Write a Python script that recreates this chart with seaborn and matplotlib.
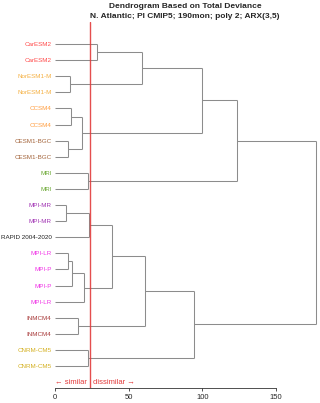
import numpy as np
import seaborn as sns
import matplotlib
matplotlib.use("Agg")
import matplotlib.pyplot as plt
import matplotlib.transforms as mtransforms

# leaves, top to bottom
leaf_labels = ["CarESM2", "CarESM2", "NorESM1-M", "NorESM1-M", "CCSM4", "CCSM4",
               "CESM1-BGC", "CESM1-BGC", "MRI", "MRI", "MPI-MR", "MPI-MR",
               "RAPID 2004-2020", "MPI-LR", "MPI-P", "MPI-P", "MPI-LR",
               "INMCM4", "INMCM4", "CNRM-CM5", "CNRM-CM5"]
leaf_colors = ["#ff4b4b", "#ff4b4b", "#f5b042", "#f5b042", "#ff9d3f", "#ff9d3f",
               "#a3643b", "#a3643b", "#6aa832", "#6aa832", "#a031b3", "#a031b3",
               "#222222", "#f032e6", "#f032e6", "#f032e6", "#f032e6",
               "#a83a3a", "#a83a3a", "#d4b020", "#d4b020"]

# merges, linkage style: new node ids start at len(leaf_labels)
merge_left = [0, 2, 21, 4, 6, 24, 23, 8, 27, 10, 30, 13, 32, 33, 31, 17, 35, 19, 37, 29]
merge_right = [1, 3, 22, 5, 7, 25, 26, 9, 28, 11, 12, 14, 15, 16, 34, 18, 36, 20, 38, 39]
merge_height = [28.3, 10.4, 59.2, 11.1, 8.6, 18.5, 100.1, 22.4, 123.2, 7.7,
                23.1, 8.6, 11.7, 19.9, 38.9, 15.8, 61.0, 22.6, 94.2, 177.0]

cut_height = 23.7
xticks = [0, 50, 100, 150]

sns.set_style("white")
plt.rcParams["font.family"] = ["Liberation Sans", "DejaVu Sans"]

fig = plt.figure(figsize=(3.2, 4.03), dpi=100)
# axes from px 53 to 318, value 0 at px 55
ax = fig.add_axes([53 / 320, 0.0372, 265 / 320, 0.908])

n = len(leaf_labels)
pos_y = {i: float(i) for i in range(n)}
pos_h = {i: 0.0 for i in range(n)}
line_col = "#8c8c8c"
for k, (a, b, h) in enumerate(zip(merge_left, merge_right, merge_height)):
    node = n + k
    ya, yb = pos_y[a], pos_y[b]
    ax.plot([pos_h[a], h], [ya, ya], color=line_col, lw=0.75, solid_capstyle="butt")
    ax.plot([pos_h[b], h], [yb, yb], color=line_col, lw=0.75, solid_capstyle="butt")
    ax.plot([h, h], [ya, yb], color=line_col, lw=0.75, solid_capstyle="butt")
    pos_y[node] = (ya + yb) / 2
    pos_h[node] = h

ax.axvline(cut_height, color="#e23b3b", lw=1.0, alpha=0.9)

ax.set_xlim(-2 / 1.4733, (318 - 55) / 1.4733)
ax.set_ylim(21.37, -1.37)

ax.set_yticks(range(n))
ax.set_yticklabels(leaf_labels, fontsize=4.5)
for lab, c in zip(ax.get_yticklabels(), leaf_colors):
    lab.set_color(c)
ax.tick_params(axis="y", length=0, pad=1)

ax.set_xticks(xticks)
ax.set_xticklabels([str(t) for t in xticks], fontsize=5.5)
ax.tick_params(axis="x", length=2.5, width=0.6, pad=2, color="#333333", bottom=True)

for s in ["top", "right", "left"]:
    ax.spines[s].set_visible(False)
ax.spines["bottom"].set_bounds(0, 150)
ax.spines["bottom"].set_linewidth(0.6)
ax.spines["bottom"].set_color("#333333")

left_off = mtransforms.offset_copy(ax.transData, fig=fig, x=-3, y=0, units="dots")
right_off = mtransforms.offset_copy(ax.transData, fig=fig, x=3, y=0, units="dots")
ax.text(cut_height, 21.0, "\u2190 similar", color="#e23b3b", fontsize=5.5,
        ha="right", va="center", transform=left_off)
ax.text(cut_height, 21.0, "dissimilar \u2192", color="#e23b3b", fontsize=5.5,
        ha="left", va="center", transform=right_off)

fig.text(185 / 320, 1 - 6 / 403, "Dendrogram Based on Total Deviance", ha="center",
         va="center", fontsize=6, fontweight="bold")
fig.text(185 / 320, 1 - 16 / 403, "N. Atlantic; PI CMIP5; 190mon; poly 2; ARX(3,5)",
         ha="center", va="center", fontsize=6, fontweight="bold")

fig.savefig("out.png", dpi=100)
